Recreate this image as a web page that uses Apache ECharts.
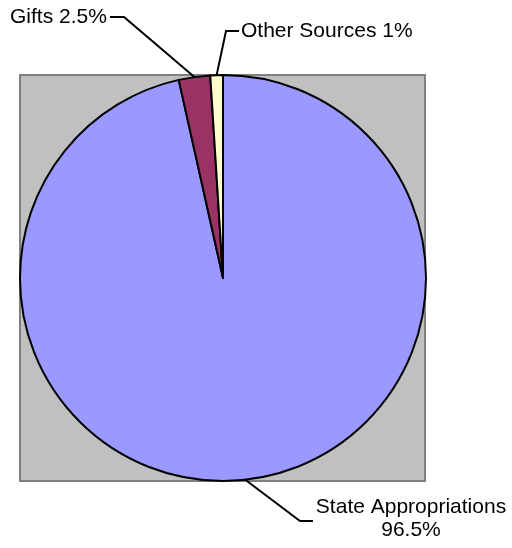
<!DOCTYPE html>
<html>
<head>
<meta charset="utf-8">
<script src="https://cdn.jsdelivr.net/npm/echarts@6/dist/echarts.min.js"></script>
<style>
  html, body { margin: 0; padding: 0; background: #fff; }
  #main { width: 512px; height: 548px; }
</style>
</head>
<body>
<div id="main"></div>
<script>
// data
const sources = ['State Appropriations', 'Gifts', 'Other Sources']
const shares = [96.5, 2.5, 1]
const colors = ['#9999FF', '#993366', '#FFFFCC']

// where each label sits and the elbow of its leader line
const labelSpots = [
  { x: 411, y: 519, align: 'center', elbow: [300, 521], end: [313, 521] },
  { x: 10, y: 17, align: 'left', elbow: [124, 17], end: [110, 17] },
  { x: 241, y: 31, align: 'left', elbow: [226, 31], end: [239, 31] }
]

const chart = echarts.init(document.getElementById('main'))

chart.setOption({
  backgroundColor: '#ffffff',
  animation: false,
  graphic: [{
    type: 'rect',
    z: -10,
    shape: { x: 20, y: 75, width: 405, height: 406 },
    style: { fill: '#C0C0C0', stroke: '#808080', lineWidth: 2 }
  }],
  series: [{
    type: 'pie',
    center: [223, 278],
    radius: 203,
    startAngle: 90,
    clockwise: true,
    avoidLabelOverlap: false,
    itemStyle: { borderColor: '#000', borderWidth: 2 },
    label: {
      show: true,
      position: 'outside',
      color: '#000',
      fontFamily: 'Liberation Sans, Arial, sans-serif',
      fontSize: 21,
      lineHeight: 23,
      formatter: function (p) {
        if (p.dataIndex === 0) return p.name + '\n' + p.value + '%'
        return p.name + ' ' + p.value + '%'
      }
    },
    labelLine: {
      show: true,
      length: 20,
      length2: 10,
      lineStyle: { color: '#000', width: 2 }
    },
    labelLayout: function (params) {
      const s = labelSpots[params.dataIndex]
      const start = params.labelLinePoints ? params.labelLinePoints[0] : s.elbow
      return {
        x: s.x,
        y: s.y,
        align: s.align,
        verticalAlign: 'middle',
        labelLinePoints: [start, s.elbow, s.end]
      }
    },
    data: sources.map(function (name, i) {
      return { name: name, value: shares[i], itemStyle: { color: colors[i] } }
    })
  }]
})
</script>
</body>
</html>
